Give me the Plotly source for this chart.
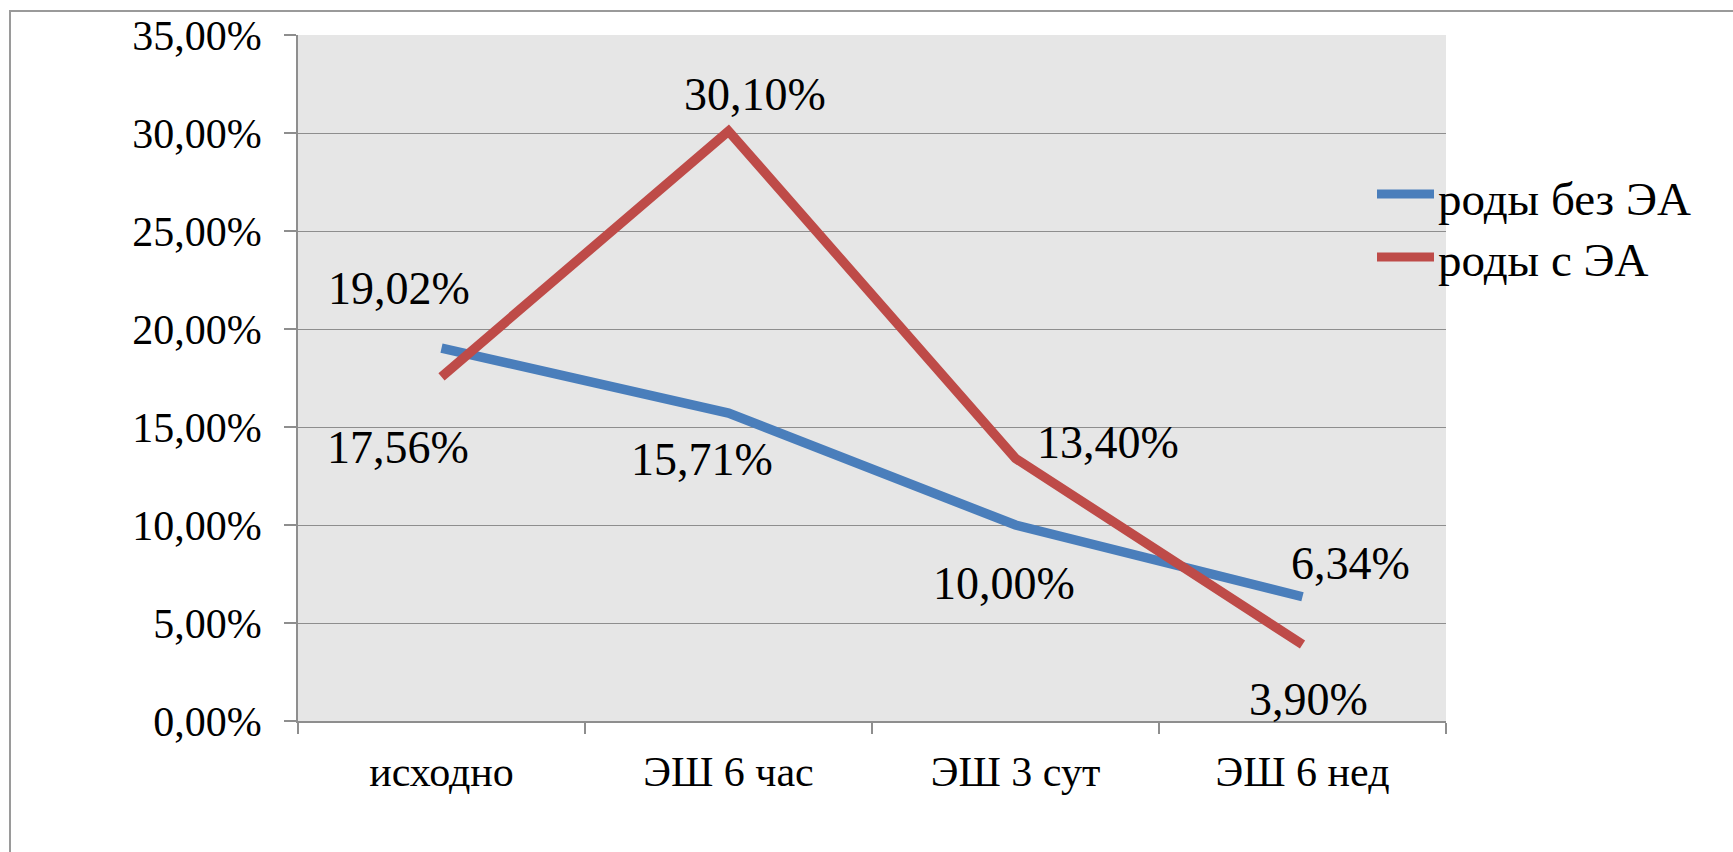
import plotly.graph_objects as go

# Data
categories = ["исходно", "ЭШ 6 час", "ЭШ 3 сут", "ЭШ 6 нед"]
series_names = ["роды без ЭА", "роды с ЭА"]
values_without = [0.1902, 0.1571, 0.1000, 0.0634]
values_with = [0.1756, 0.3010, 0.1340, 0.0390]
y_ticks = [0.0, 0.05, 0.10, 0.15, 0.20, 0.25, 0.30, 0.35]

colors = ["#4a7ebb", "#be4b48"]
series_values = [values_without, values_with]

# Label offsets in pixels (dx right, dy down) for each point's value label
label_offsets = [
    [(-43, -60), (-27, 46), (-12, 58), (48, -33)],
    [(-44, 71), (26, -37), (92, -16), (6, 55)],
]

W, H = 1733, 852
L, R, T, B = 298, 287, 35, 131
plot_w = W - L - R
plot_h = H - T - B

FONT = "Liberation Serif"
GRID = "#8e8e8e"


def fmt(v):
    return f"{v * 100:.2f}".replace(".", ",") + "%"


def px_x(X):
    return (X - L) / plot_w


def px_y(Y):
    return (H - B - Y) / plot_h


fig = go.Figure()
for name, vals, col in zip(series_names, series_values, colors):
    fig.add_trace(go.Scatter(
        x=categories, y=vals, mode="lines", name=name,
        line=dict(color=col, width=9.5),
        showlegend=False, hoverinfo="skip",
    ))

annotations = []
for vals, offs in zip(series_values, label_offsets):
    for cat, v, (dx, dy) in zip(categories, vals, offs):
        annotations.append(dict(
            x=cat, y=v, xref="x", yref="y", text=fmt(v), showarrow=False,
            xshift=dx, yshift=-dy, xanchor="center", yanchor="middle",
            font=dict(family=FONT, size=46, color="black"),
        ))

# Legend entries on the right
shapes = []
legend_line_y = [194, 257]
legend_text_y = [199, 260]
for name, col, ly, ty in zip(series_names, colors, legend_line_y, legend_text_y):
    shapes.append(dict(
        type="line", xref="paper", yref="paper",
        x0=px_x(1377), x1=px_x(1434), y0=px_y(ly), y1=px_y(ly),
        line=dict(color=col, width=9), layer="above",
    ))
    annotations.append(dict(
        x=px_x(1436), y=px_y(ty), xref="paper", yref="paper",
        text=name, showarrow=False, xanchor="left", yanchor="middle",
        font=dict(family=FONT, size=47, color="black"),
    ))

# Chart frame
shapes.append(dict(
    type="rect", xref="paper", yref="paper",
    x0=px_x(10), x1=px_x(W + 20), y0=px_y(H + 20), y1=px_y(11),
    line=dict(color="#9a9a9a", width=2), fillcolor="rgba(0,0,0,0)",
    layer="below",
))

fig.update_layout(
    width=W, height=H,
    margin=dict(l=L, r=R, t=T, b=B, pad=0),
    paper_bgcolor="white",
    plot_bgcolor="#e6e6e6",
    separators=", ",
    font=dict(family=FONT, size=42, color="black"),
    showlegend=False,
    annotations=annotations,
    shapes=shapes,
)

fig.update_xaxes(
    type="category", range=[-0.5, 3.5],
    showgrid=False, showline=True, linecolor=GRID, linewidth=1.5,
    ticks="outside", tickson="boundaries", ticklen=11, tickcolor=GRID,
    tickwidth=1.5, ticklabelstandoff=13,
    tickfont=dict(family=FONT, size=42, color="black"),
    zeroline=False,
)
fig.update_yaxes(
    range=[0, 0.35], tickvals=y_ticks, tickformat=".2%",
    showgrid=True, gridcolor=GRID, gridwidth=1.3,
    showline=True, linecolor=GRID, linewidth=1.5,
    ticks="outside", ticklen=12, tickcolor=GRID, tickwidth=1.5,
    ticklabelstandoff=14,
    tickfont=dict(family=FONT, size=42, color="black"),
    zeroline=False,
)

fig.write_html("out.html")
